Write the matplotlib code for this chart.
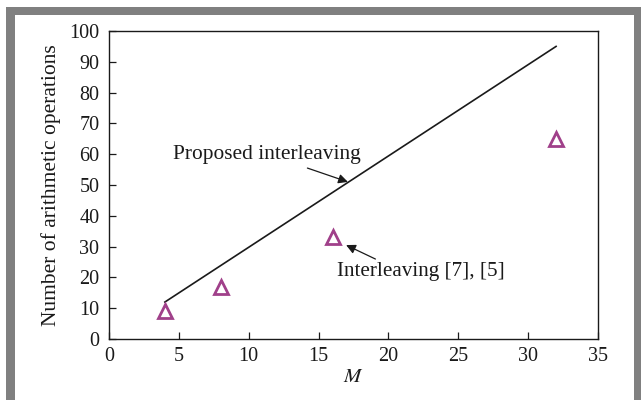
import matplotlib
matplotlib.use("Agg")
import matplotlib.pyplot as plt
from matplotlib.patches import Rectangle

# Operation counts versus interleaver size M
m_line = [4, 32]
ops_proposed = [12, 95]
m_points = [4, 8, 16, 32]
ops_reference = [9, 17, 33, 65]

x_ticks = [0, 5, 10, 15, 20, 25, 30, 35]
y_ticks = [0, 10, 20, 30, 40, 50, 60, 70, 80, 90, 100]

plt.rcParams["font.family"] = ["Liberation Serif", "DejaVu Serif"]
plt.rcParams["mathtext.fontset"] = "stix"

W, H = 641, 400
fig = plt.figure(figsize=(W / 100, H / 100), dpi=100)
fig.patch.set_facecolor("white")

# grey frame around the figure
fig.add_artist(Rectangle((6 / W, -0.1), 1.2, 1.1 - 7 / H, transform=fig.transFigure,
                         facecolor="#808080", edgecolor="none", zorder=-10))
fig.add_artist(Rectangle((15 / W, -0.1), (634 - 15) / W, 1.1 - 15 / H, transform=fig.transFigure,
                         facecolor="white", edgecolor="none", zorder=-9))

ax = fig.add_axes([109 / W, (H - 339) / H, (598 - 109) / W, (339 - 31) / H])
ax.set_facecolor("white")

ax.plot(m_line, ops_proposed, color="#1a1a1a", lw=1.2)
ax.plot(m_points, ops_reference, linestyle="none", marker="^", ms=10.5,
        markerfacecolor="none", markeredgecolor="#a0408a", markeredgewidth=2)

ax.set_xlim(0, 35)
ax.set_ylim(0, 100)
ax.set_xticks(x_ticks)
ax.set_yticks(y_ticks)
ax.tick_params(direction="in", length=5, width=0.9, labelsize=14.5, colors="#1a1a1a",
               top=False, right=False)
ax.tick_params(axis="y", pad=7)
ax.tick_params(axis="x", pad=6)
for s in ax.spines.values():
    s.set_linewidth(1.0)
    s.set_color("#1a1a1a")

ax.set_xlabel("$M$", fontsize=15, labelpad=1, color="#1a1a1a")
ax.set_ylabel("Number of arithmetic operations", fontsize=15.5, labelpad=6, color="#1a1a1a")

arrow = dict(arrowstyle="-|>", color="#1a1a1a", lw=0.9, mutation_scale=14, shrinkA=0, shrinkB=0)
ax.annotate("", xy=(17.1, 51), xytext=(14.2, 55.5), arrowprops=arrow)
ax.text(4.6, 60, "Proposed interleaving", fontsize=15.4, va="center", ha="left", color="#1a1a1a")
ax.annotate("", xy=(16.97, 30.5), xytext=(19.07, 25.96), arrowprops=arrow)
ax.text(16.3, 21.8, "Interleaving [7], [5]", fontsize=15.2, va="center", ha="left", color="#1a1a1a")

fig.savefig("out.png", dpi=100, facecolor="white")
